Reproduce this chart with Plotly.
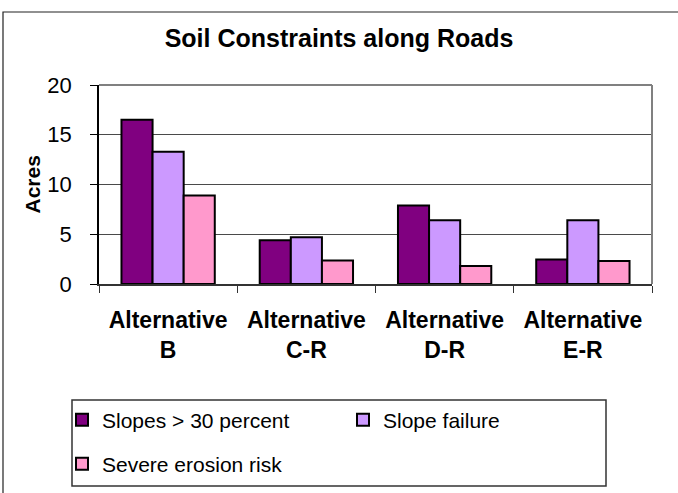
import plotly.graph_objects as go

categories = ["Alternative<br>B", "Alternative<br>C-R", "Alternative<br>D-R", "Alternative<br>E-R"]
series_names = ["Slopes > 30 percent", "Slope failure", "Severe erosion risk"]
slopes_30 = [16.5, 4.4, 7.9, 2.45]
slope_failure = [13.3, 4.7, 6.4, 6.4]
erosion_risk = [8.9, 2.35, 1.8, 2.3]
colors = ["#800080", "#CC99FF", "#FF99CC"]
y_ticks = [0, 5, 10, 15, 20]

W, H = 678, 493
L, R, T, B = 99, 652, 85, 284  # plot area in px

def px_x(px):
    return (px - L) / (R - L)

def px_y(py):
    return (B - py) / (B - T)

FONT = "Liberation Sans, Arial, sans-serif"

legend_ids = ["legend", "legend2", "legend3"]
fig = go.Figure()
for name, vals, col, lg in zip(series_names, [slopes_30, slope_failure, erosion_risk], colors, legend_ids):
    fig.add_trace(go.Bar(
        x=categories, y=vals, name=name,
        marker=dict(color=col, line=dict(color="black", width=2)),
        legend=lg,
    ))

def leg(xpx, ypx):
    return dict(
        orientation="h", xref="container", yref="container",
        x=xpx / W, xanchor="left", y=1 - ypx / H, yanchor="middle",
        font=dict(size=21, family=FONT, color="black"),
        bgcolor="rgba(0,0,0,0)", borderwidth=0, itemwidth=30,
    )

fig.update_layout(
    width=W, height=H, autosize=False,
    margin=dict(l=L, r=W - R, t=T, b=H - B, pad=0),
    paper_bgcolor="white", plot_bgcolor="white",
    barmode="group", bargap=0.325, bargroupgap=0,
    font=dict(family=FONT, color="black"),
    title=dict(text="<b>Soil Constraints along Roads</b>", x=0.5, xref="container",
               xanchor="center", y=1 - 38 / H, yref="container", yanchor="middle",
               font=dict(size=25, family=FONT, color="black")),
    xaxis=dict(
        showline=True, linecolor="#333", linewidth=1.5,
        ticks="outside", tickson="boundaries", ticklen=7, tickcolor="#333", tickwidth=1,
        tickfont=dict(size=23, family=FONT, color="black", weight="bold"),
        ticklabelstandoff=15,
        showgrid=False, zeroline=False, fixedrange=True,
    ),
    yaxis=dict(
        range=[0, 20], tickvals=y_ticks, ticktext=[str(v) for v in y_ticks],
        showline=True, linecolor="black", linewidth=1.5,
        ticks="outside", ticklen=7, tickcolor="black", tickwidth=1,
        tickfont=dict(size=22, family=FONT, color="black"),
        ticklabelstandoff=14,
        showgrid=True, gridcolor="#4a4a4a", gridwidth=1.2,
        zeroline=False, fixedrange=True,
    ),
    legend=leg(62, 420),
    legend2=leg(343, 420),
    legend3=leg(62, 464),
    showlegend=True,
)

# y-axis title
fig.add_annotation(text="<b>Acres</b>", xref="paper", yref="paper",
                   x=px_x(32), y=0.5, textangle=-90, showarrow=False,
                   xanchor="center", yanchor="middle",
                   font=dict(size=21, family=FONT, color="black"))

# plot area border (top and right, grey)
fig.add_shape(type="line", xref="paper", yref="paper", x0=0, x1=1, y0=1, y1=1,
              line=dict(color="#808080", width=2))
fig.add_shape(type="line", xref="paper", yref="paper", x0=1, x1=1, y0=0, y1=1,
              line=dict(color="#808080", width=2))

# legend box
fig.add_shape(type="rect", xref="paper", yref="paper",
              x0=px_x(72), x1=px_x(606), y0=px_y(400), y1=px_y(486),
              line=dict(color="#333", width=1.5), fillcolor="rgba(0,0,0,0)", layer="below")

# chart border (only left/top visible)
fig.add_shape(type="rect", xref="paper", yref="paper",
              x0=px_x(3), x1=px_x(760), y0=px_y(12), y1=px_y(560),
              line=dict(color="#222", width=1.2), fillcolor="rgba(0,0,0,0)", layer="below")

fig.write_html("out.html", config={"displayModeBar": False},
               post_script="document.body.style.margin='0';document.body.style.overflow='hidden';")
